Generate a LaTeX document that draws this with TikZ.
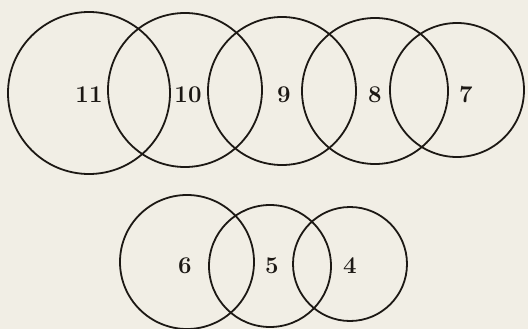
\documentclass[tikz,border=0pt]{standalone}
\usepackage{fontspec}
\usepackage{tikz}
\usetikzlibrary{positioning}
\definecolor{paperc}{RGB}{241,238,229}
\definecolor{inkc}{RGB}{28,24,20}
\tikzset{
  ring/.style={circle, draw=inkc, line width=1.8pt, inner sep=0pt, fill=none},
  num/.style={font=\fontsize{24}{26}\selectfont\bfseries, text=inkc, inner sep=0pt},
}
\begin{document}
\begin{tikzpicture}[x=1pt, y=-1pt]
  \fill[paperc] (0,0) rectangle (528,329);
  \useasboundingbox (0,0) rectangle (528,329);
  % upper row
  \node[ring, minimum size=162pt] (r11) at (89,93) {};
  \node[ring, minimum size=154pt] (r10) at (185,90) {};
  \node[ring, minimum size=148pt] (r9) at (282,91) {};
  \node[ring, minimum size=146pt] (r8) at (375,91) {};
  \node[ring, minimum size=134pt] (r7) at (457,90) {};
  \node[num] (n11) at (89,95) {11};
  \node[num] (n10) at (188,95) {10};
  \node[num] (n9) at (284,95) {9};
  \node[num] (n8) at (375,95) {8};
  \node[num] (n7) at (466,95) {7};
  % lower row
  \node[ring, minimum size=134pt] (r6) at (187,262) {};
  \node[ring, minimum size=122pt] (r5) at (270,266) {};
  \node[ring, minimum size=114pt] (r4) at (350,264) {};
  \node[num] (n6) at (185,266) {6};
  \node[num] (n5) at (272,266) {5};
  \node[num] (n4) at (350,266) {4};
\end{tikzpicture}
\end{document}
